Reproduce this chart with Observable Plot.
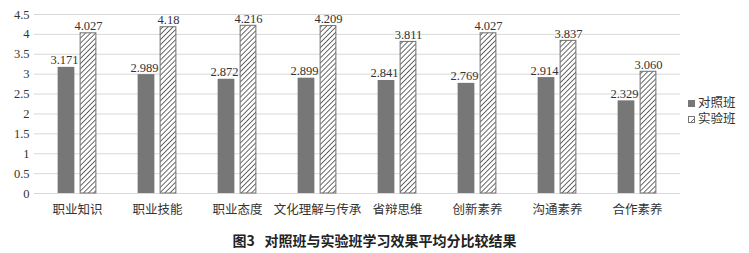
<!DOCTYPE html>
<html><head><meta charset="utf-8">
<script src="https://cdn.jsdelivr.net/npm/d3@7"></script>
<script src="https://cdn.jsdelivr.net/npm/@observablehq/plot@0.6"></script>
<style>
body{margin:0;background:#fff;}
#wrap{position:relative;width:749px;height:253px;}
#legend{position:absolute;left:688px;top:95px;font-family:"Liberation Serif","Noto Sans CJK SC",serif;font-size:12.5px;color:#333;line-height:16px;}
#legend .sw{display:inline-block;width:7px;height:7px;margin-right:3px;vertical-align:0px;box-sizing:border-box;}
#caption{position:absolute;left:0;width:749px;top:230px;text-align:center;font-family:"Noto Sans CJK SC",sans-serif;font-weight:bold;font-size:14px;color:#222;white-space:pre;padding-left:0px;}
</style></head>
<body><div id="wrap"><div id="chart"></div>
<div id="legend"></div>
<div id="caption"></div></div>
<script>
const categories = ["职业知识","职业技能","职业态度","文化理解与传承","省辩思维","创新素养","沟通素养","合作素养"];
const seriesNames = ["对照班","实验班"];
const controlValues = [3.171,2.989,2.872,2.899,2.841,2.769,2.914,2.329];
const experimentValues = [4.027,4.18,4.216,4.209,3.811,4.027,3.837,3.060];
const controlLabels = ["3.171","2.989","2.872","2.899","2.841","2.769","2.914","2.329"];
const experimentLabels = ["4.027","4.18","4.216","4.209","3.811","4.027","3.837","3.060"];
const yTicks = [0,0.5,1,1.5,2,2.5,3,3.5,4,4.5];
const captionText = "图3   对照班与实验班学习效果平均分比较结果";

const ctrl = categories.map((c,i)=>({cat:c, v:controlValues[i], label:controlLabels[i]}));
const expt = categories.map((c,i)=>({cat:c, v:experimentValues[i], label:experimentLabels[i]}));

const mL = 34, mR = 69;
const barW = 17.5, off = 11;
const inset = (749-mL-mR)/8/2 - barW/2;

const chart = Plot.plot({
  width: 749, height: 228,
  marginLeft: mL, marginRight: mR, marginTop: 14, marginBottom: 35,
  style:{fontFamily:'"Liberation Serif","Noto Sans CJK SC",serif', fontSize:"12.5px", color:"#333", background:"#fff"},
  x:{domain:categories, padding:0, label:null, tickSize:0, tickPadding:12},
  y:{domain:[0,4.5], ticks:yTicks, tickFormat:d=>String(d), label:null, tickSize:0, tickPadding:5},
  marks:[
    Plot.ruleY(yTicks,{stroke:"#d9d9d9", strokeWidth:1}),
    Plot.barY(ctrl,{x:"cat", y:"v", fill:"#777777", insetLeft:inset, insetRight:inset, dx:-off}),
    Plot.barY(expt,{x:"cat", y:"v", fill:"url(#hatch)", stroke:"#707070", strokeWidth:1, insetLeft:inset+0.5, insetRight:inset+0.5, dx:off}),
    Plot.text(ctrl,{x:"cat", y:"v", text:"label", dx:-off-2, dy:-7, fill:"#333", fontSize:12.5}),
    Plot.text(expt,{x:"cat", y:"v", text:"label", dx:off, dy:-7, fill:"#333", fontSize:12.5}),
    Plot.axisX({tickSize:0, tickPadding:12, fontFamily:'"Noto Sans CJK SC",serif', fontSize:12.5, fill:"#333"}),
    Plot.axisY({ticks:yTicks, tickFormat:d=>String(d), tickSize:0, tickPadding:5})
  ]
});
// hatch pattern
const ns="http://www.w3.org/2000/svg";
const defs=document.createElementNS(ns,"defs");
defs.innerHTML='<pattern id="hatch" patternUnits="userSpaceOnUse" width="3.6" height="3.6" patternTransform="rotate(45)"><rect width="3.6" height="3.6" fill="#fff"/><line x1="0" y1="0" x2="0" y2="3.6" stroke="#5a5a5a" stroke-width="1.8"/></pattern>';
chart.insertBefore(defs, chart.firstChild);
document.getElementById("chart").appendChild(chart);

const lg=document.getElementById("legend");
lg.innerHTML = `<div><span class="sw" style="background:#777"></span>${seriesNames[0]}</div><div><span class="sw" style="border:1px solid #777;background:url('data:image/svg+xml;utf8,<svg xmlns=%22http://www.w3.org/2000/svg%22 width=%227%22 height=%227%22><line x1=%220%22 y1=%227%22 x2=%227%22 y2=%220%22 stroke=%22%23666%22/></svg>')"></span>${seriesNames[1]}</div>`;
document.getElementById("caption").textContent = captionText;
</script></body></html>
